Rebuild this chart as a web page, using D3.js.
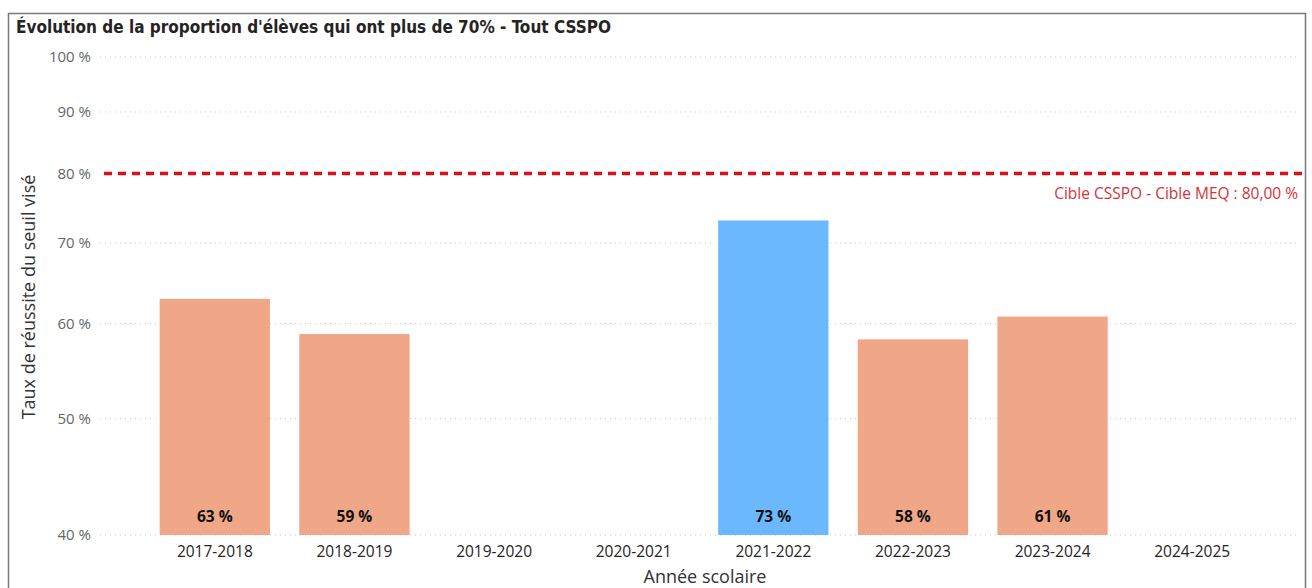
<!DOCTYPE html>
<html><head><meta charset="utf-8">
<script src="https://cdn.jsdelivr.net/npm/d3@7"></script>
<style>body{margin:0;background:#fff;}svg{display:block;}</style>
</head><body>
<script>
const categories = ["2017-2018","2018-2019","2019-2020","2020-2021","2021-2022","2022-2023","2023-2024","2024-2025"];
const values = [62.9, 58.8, null, null, 73.1, 58.2, 60.8, null];
const barColors = ["#EFA788","#EFA788",null,null,"#6CB8FF","#EFA788","#EFA788",null];
const yTicks = [40,50,60,70,80,90,100];
const target = 80;
const targetLabel = "Cible CSSPO - Cible MEQ : 80,00 %";

const W = 1312, H = 588;
const svg = d3.select("body").append("svg").attr("width", W).attr("height", H);
const font = "'Open Sans', 'Noto Sans', sans-serif";

// frame
svg.append("path").attr("d","M8.5,588 L8.5,13.5 L1305.5,13.5 L1305.5,588")
  .attr("fill","none").attr("stroke","#7a7a7a").attr("stroke-width",1.5);

svg.append("text").attr("x",16).attr("y",33)
  .attr("font-family","'DejaVu Sans Condensed', 'Liberation Sans Narrow', sans-serif")
  .attr("font-weight","bold").attr("font-size",17).attr("fill","#252423")
  .text("Évolution de la proportion d'élèves qui ont plus de 70% - Tout CSSPO");

const x = d3.scaleBand().domain(categories).range([145, 1262]).paddingInner(0.21).paddingOuter(0.105);
const y = d3.scaleLog().domain([40,100]).range([535,57]);

// grid
svg.append("g").selectAll("line").data(yTicks.filter(t=>t!==target)).join("line")
  .attr("x1",100).attr("x2",1300).attr("y1",d=>y(d)).attr("y2",d=>y(d))
  .attr("stroke","#c8c8c8").attr("stroke-dasharray","1,4").attr("stroke-width",1);

// y axis labels
const yAxis = d3.axisLeft(y).tickValues(yTicks).tickFormat(d=>d+" %").tickSize(0).tickPadding(0);
const yg = svg.append("g").attr("transform","translate(91,0)").call(yAxis);
yg.select(".domain").remove();
yg.selectAll("text").attr("font-family",font).attr("font-size",15).attr("fill","#666");

// bars
const data = categories.map((c,i)=>({c, v: values[i], col: barColors[i]})).filter(d=>d.v!=null);
svg.append("g").selectAll("rect").data(data).join("rect")
  .attr("x",d=>x(d.c)).attr("width",x.bandwidth())
  .attr("y",d=>y(d.v)).attr("height",d=>y(40)-y(d.v))
  .attr("fill",d=>d.col);

svg.append("g").selectAll("text").data(data).join("text")
  .attr("x",d=>x(d.c)+x.bandwidth()/2).attr("y",522)
  .attr("text-anchor","middle").attr("font-family",font).attr("font-weight","bold")
  .attr("font-size",15.5).attr("fill","#111")
  .text(d=>Math.round(d.v)+" %");

// target line
svg.append("line").attr("x1",104).attr("x2",1305).attr("y1",y(target)).attr("y2",y(target))
  .attr("stroke","#DC1019").attr("stroke-width",3.5).attr("stroke-dasharray","8,6");
svg.append("text").attr("x",1298).attr("y",199).attr("text-anchor","end")
  .attr("font-family",font).attr("font-size",15.5).attr("fill","#D6323A").text(targetLabel);

// x axis
const xAxis = d3.axisBottom(x).tickSize(0).tickPadding(0);
const xg = svg.append("g").attr("transform","translate(0,0)").call(xAxis);
xg.select(".domain").remove();
xg.selectAll("text").attr("dy",null).attr("y",557).attr("font-family",font).attr("font-size",15.5).attr("fill","#252423");

svg.append("text").attr("x",705).attr("y",583).attr("text-anchor","middle")
  .attr("font-family",font).attr("font-size",18).attr("fill","#333").text("Année scolaire");
svg.append("text").attr("transform","translate(35,297) rotate(-90)").attr("text-anchor","middle")
  .attr("font-family",font).attr("font-size",18).attr("fill","#333").text("Taux de réussite du seuil visé");
</script>
</body></html>
